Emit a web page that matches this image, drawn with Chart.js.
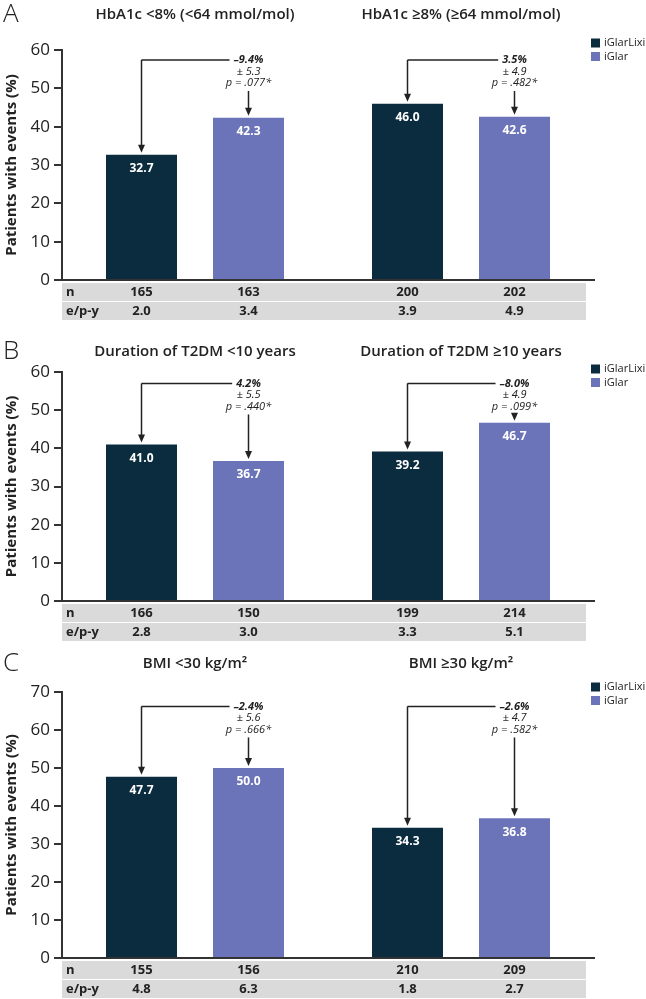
<!DOCTYPE html>
<html lang="en">
<head>
  <meta charset="UTF-8" />
  <title>Hypoglycaemia by subgroup</title>
  <script src="https://cdn.jsdelivr.net/npm/chart.js"></script>
  <style>
    html, body { margin: 0; padding: 0; background: #fff; }
    body { width: 646px; height: 999px; position: relative; overflow: hidden; }
    .panel { position: absolute; left: 0; width: 646px; }
  </style>
</head>
<body>

  <div class="panel" style="top:0;height:325px"><canvas id="chartA" width="646" height="325"></canvas></div>
  <div class="panel" style="top:325px;height:320px"><canvas id="chartB" width="646" height="320"></canvas></div>
  <div class="panel" style="top:645px;height:354px"><canvas id="chartC" width="646" height="354"></canvas></div>

  <script>
    const FONT = '"Open Sans", "Noto Sans", sans-serif';
    const seriesNames = ["iGlarLixi", "iGlar"];
    const seriesColors = ["#0b2c3f", "#6b74b8"];
    const rowLabels = ["n", "e/p-y"];

    // A - HbA1c
    const titlesA = ["HbA1c <8% (<64 mmol/mol)", "HbA1c \u22658% (\u226564 mmol/mol)"];
    const lixiA = [32.7, 46.0];
    const glarA = [42.3, 42.6];
    const nLixiA = ["165", "200"];
    const nGlarA = ["163", "202"];
    const epyLixiA = ["2.0", "3.9"];
    const epyGlarA = ["3.4", "4.9"];
    const diffA = ["\u20139.4%", "3.5%"];
    const seA = ["\u00b1 5.3", "\u00b1 4.9"];
    const pA = ["p = .077*", "p = .482*"];

    // B - duration of T2DM
    const titlesB = ["Duration of T2DM <10 years", "Duration of T2DM \u226510 years"];
    const lixiB = [41.0, 39.2];
    const glarB = [36.7, 46.7];
    const nLixiB = ["166", "199"];
    const nGlarB = ["150", "214"];
    const epyLixiB = ["2.8", "3.3"];
    const epyGlarB = ["3.0", "5.1"];
    const diffB = ["4.2%", "\u20138.0%"];
    const seB = ["\u00b1 5.5", "\u00b1 4.9"];
    const pB = ["p = .440*", "p = .099*"];

    // C - BMI
    const titlesC = ["BMI <30 kg/m\u00b2", "BMI \u226530 kg/m\u00b2"];
    const lixiC = [47.7, 34.3];
    const glarC = [50.0, 36.8];
    const nLixiC = ["155", "210"];
    const nGlarC = ["156", "209"];
    const epyLixiC = ["4.8", "1.8"];
    const epyGlarC = ["6.3", "2.7"];
    const diffC = ["\u20132.4%", "\u20132.6%"];
    const seC = ["\u00b1 5.6", "\u00b1 4.7"];
    const pC = ["p = .666*", "p = .582*"];

    function arrow(ctx, x, y0, y1) {
      ctx.beginPath();
      ctx.moveTo(x, y0);
      ctx.lineTo(x, y1 - 6);
      ctx.stroke();
      ctx.beginPath();
      ctx.moveTo(x - 3.5, y1 - 8);
      ctx.lineTo(x + 3.5, y1 - 8);
      ctx.lineTo(x, y1);
      ctx.closePath();
      ctx.fill();
    }

    // titles, brackets, table and legend drawn from the bar elements
    const panelDecor = {
      id: "panelDecor",
      afterDatasetsDraw(chart, args, o) {
        const ctx = chart.ctx;
        const area = chart.chartArea;
        const yScale = chart.scales.y;
        const m0 = chart.getDatasetMeta(0).data;
        const m1 = chart.getDatasetMeta(1).data;
        ctx.save();

        // values inside bars
        ctx.fillStyle = "#fff";
        ctx.font = "bold 12px " + FONT;
        ctx.textAlign = "center";
        ctx.textBaseline = "middle";
        [m0, m1].forEach((bars, d) => bars.forEach((bar, i) => {
          ctx.fillText(chart.data.datasets[d].data[i].toFixed(1), bar.x, bar.y + 14);
        }));

        // letter + subgroup titles
        ctx.fillStyle = "#222";
        ctx.textAlign = "left";
        ctx.font = "300 26px " + FONT;
        ctx.fillText(o.letter, 3, o.titleY);
        ctx.textAlign = "center";
        ctx.font = "600 15px " + FONT;
        o.titles.forEach((t, i) => ctx.fillText(t, (m0[i].x + m1[i].x) / 2, o.titleY));

        // difference brackets
        const top = yScale.getPixelForValue(o.bracket);
        const lh = 11.5;
        ctx.strokeStyle = "#222";
        ctx.fillStyle = "#222";
        ctx.lineWidth = 1.5;
        for (let i = 0; i < m0.length; i++) {
          const x0 = m0[i].x, x1 = m1[i].x;
          ctx.font = "italic bold 11px " + FONT;
          const w = ctx.measureText(o.diff[i]).width;
          ctx.fillText(o.diff[i], x1, top);
          ctx.font = "italic 11px " + FONT;
          ctx.fillText(o.se[i], x1, top + lh);
          ctx.fillText(o.p[i], x1, top + 2 * lh);
          ctx.beginPath();
          ctx.moveTo(x1 - w / 2 - 4, top);
          ctx.lineTo(x0, top);
          ctx.stroke();
          arrow(ctx, x0, top, m0[i].y - 2);
          arrow(ctx, x1, top + 2 * lh + 8, m1[i].y - 2);
        }

        // n and e/p-y rows
        const rows = [[o.nLixi, o.nGlar], [o.epyLixi, o.epyGlar]];
        rows.forEach((r, k) => {
          const ry = area.bottom + 3 + k * 19;
          ctx.fillStyle = "#dadada";
          ctx.fillRect(area.left, ry, area.right - 8 - area.left, 18);
          ctx.fillStyle = "#222";
          ctx.font = "bold 13px " + FONT;
          ctx.textAlign = "left";
          ctx.fillText(rowLabels[k], area.left + 4, ry + 9);
          ctx.textAlign = "center";
          for (let i = 0; i < m0.length; i++) {
            ctx.fillText(r[0][i], m0[i].x, ry + 9);
            ctx.fillText(r[1][i], m1[i].x, ry + 9);
          }
        });

        // legend
        ctx.font = "11px " + FONT;
        ctx.textAlign = "left";
        seriesNames.forEach((name, k) => {
          const ly = area.top + o.legendDy + k * 13.5;
          ctx.fillStyle = seriesColors[k];
          ctx.fillRect(area.right - 3, ly - 4.5, 9, 9);
          ctx.fillStyle = "#222";
          ctx.fillText(name, area.right + 10, ly);
        });
        ctx.restore();
      }
    };

    function makePanel(id, lixi, glar, yMax, xHeight, decor) {
      const ctx = document.getElementById(id).getContext("2d");
      return new Chart(ctx, {
        type: "bar",
        data: {
          labels: decor.titles,
          datasets: [
            { label: seriesNames[0], data: lixi, backgroundColor: seriesColors[0] },
            { label: seriesNames[1], data: glar, backgroundColor: seriesColors[1] }
          ]
        },
        options: {
          responsive: false,
          animation: false,
          categoryPercentage: 0.8045,
          barPercentage: 0.6636,
          layout: { padding: { top: decor.padTop, right: 52, left: 0, bottom: 0 } },
          scales: {
            x: {
              grid: { display: false },
              ticks: { display: false },
              border: { display: true, color: "#333", width: 2 },
              afterFit: s => { s.height = xHeight; }
            },
            y: {
              min: 0,
              max: yMax,
              ticks: { stepSize: 10, padding: 4, color: "#222", font: { family: FONT, size: 17 } },
              grid: { drawOnChartArea: false, drawTicks: true, tickLength: 8, color: "#333", lineWidth: 2 },
              border: { display: true, color: "#333", width: 2 },
              title: {
                display: true,
                text: "Patients with events (%)",
                color: "#222",
                font: { family: FONT, size: 15, weight: "bold" },
                padding: { top: 3, bottom: 0 }
              },
              afterFit: s => { s.width = 62; }
            }
          },
          plugins: {
            legend: { display: false },
            tooltip: { enabled: false },
            panelDecor: decor
          }
        },
        plugins: [panelDecor]
      });
    }

    makePanel("chartA", lixiA, glarA, 60, 45, {
      letter: "A", titles: titlesA, titleY: 15, padTop: 50, bracket: 57.4, legendDy: -7,
      diff: diffA, se: seA, p: pA, nLixi: nLixiA, nGlar: nGlarA, epyLixi: epyLixiA, epyGlar: epyGlarA
    });
    makePanel("chartB", lixiB, glarB, 60, 44, {
      letter: "B", titles: titlesB, titleY: 27, padTop: 47, bracket: 57.0, legendDy: -3,
      diff: diffB, se: seB, p: pB, nLixi: nLixiB, nGlar: nGlarB, epyLixi: epyLixiB, epyGlar: epyGlarB
    });
    makePanel("chartC", lixiC, glarC, 70, 41, {
      letter: "C", titles: titlesC, titleY: 19, padTop: 47, bracket: 66.2, legendDy: -5,
      diff: diffC, se: seC, p: pC, nLixi: nLixiC, nGlar: nGlarC, epyLixi: epyLixiC, epyGlar: epyGlarC
    });
  </script>
</body>
</html>
